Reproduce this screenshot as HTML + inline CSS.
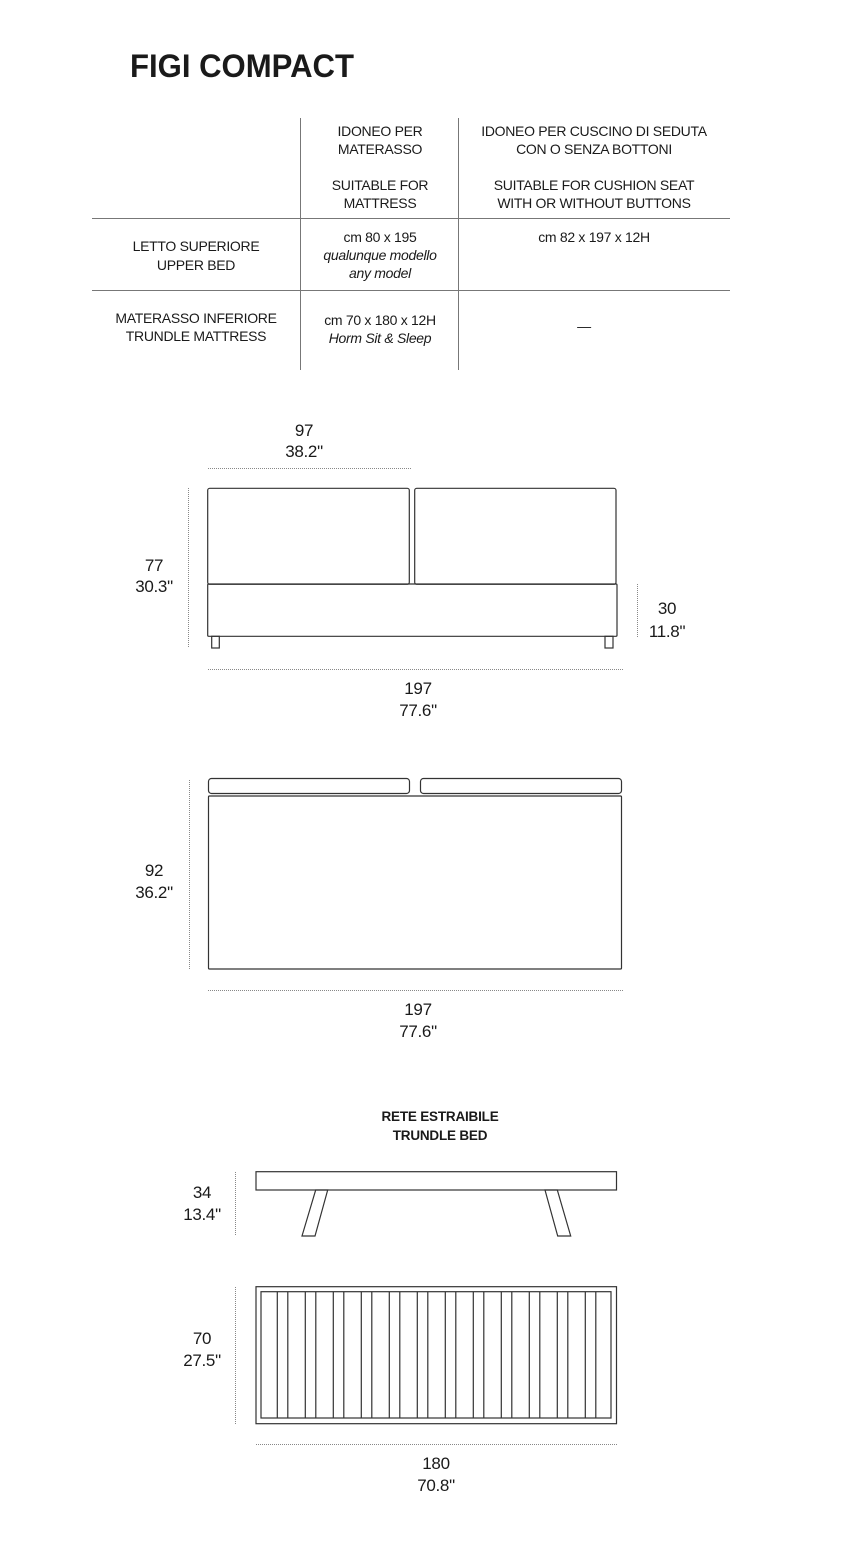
<!DOCTYPE html>
<html><head><meta charset="utf-8"><style>
html,body{margin:0;padding:0;background:#fff;}
svg{display:block;}
text{font-family:"Liberation Sans",sans-serif;fill:#1a1a1a;}
.t{font-size:14px;letter-spacing:-0.3px;}
.i{font-size:14px;font-style:italic;letter-spacing:-0.3px;}
.d{font-size:17px;letter-spacing:-0.3px;}
.b{font-size:13.5px;font-weight:bold;letter-spacing:-0.2px;}
.ln{stroke:#333;stroke-width:1.2;fill:none;}
.dim{stroke:#888;stroke-width:1;stroke-dasharray:1 1;fill:none;}
.tab{stroke:#777;stroke-width:1;}
</style></head><body>
<svg width="842" height="1543" viewBox="0 0 842 1543" xmlns="http://www.w3.org/2000/svg">
<text x="130" y="77" font-size="32" font-weight="bold" textLength="224" lengthAdjust="spacingAndGlyphs" style="letter-spacing:0">FIGI COMPACT</text>

<line class="tab" x1="300.5" y1="118" x2="300.5" y2="370"/>
<line class="tab" x1="458.5" y1="118" x2="458.5" y2="370"/>
<line class="tab" x1="92" y1="218.5" x2="730" y2="218.5"/>
<line class="tab" x1="92" y1="290.5" x2="730" y2="290.5"/>
<g text-anchor="middle">
<text class="t" x="380" y="136">IDONEO PER</text>
<text class="t" x="380" y="154">MATERASSO</text>
<text class="t" x="380" y="190">SUITABLE FOR</text>
<text class="t" x="380" y="208">MATTRESS</text>
<text class="t" x="594" y="136">IDONEO PER CUSCINO DI SEDUTA</text>
<text class="t" x="594" y="154">CON O SENZA BOTTONI</text>
<text class="t" x="594" y="190">SUITABLE FOR CUSHION SEAT</text>
<text class="t" x="594" y="208">WITH OR WITHOUT BUTTONS</text>
<text class="t" x="196" y="251">LETTO SUPERIORE</text>
<text class="t" x="196" y="270">UPPER BED</text>
<text class="t" x="380" y="242">cm 80 x 195</text>
<text class="i" x="380" y="260">qualunque modello</text>
<text class="i" x="380" y="278">any model</text>
<text class="t" x="594" y="242">cm 82 x 197 x 12H</text>
<text class="t" x="196" y="323">MATERASSO INFERIORE</text>
<text class="t" x="196" y="341">TRUNDLE MATTRESS</text>
<text class="t" x="380" y="325">cm 70 x 180 x 12H</text>
<text class="i" x="380" y="343">Horm Sit &amp; Sleep</text>
<text class="t" x="584" y="331">—</text>
</g>

<g text-anchor="middle">
<text class="d" x="304" y="436">97</text>
<text class="d" x="304" y="457">38.2"</text>
<text class="d" x="154" y="571">77</text>
<text class="d" x="154" y="592">30.3"</text>
<text class="d" x="667" y="614">30</text>
<text class="d" x="667" y="637">11.8"</text>
<text class="d" x="418" y="694">197</text>
<text class="d" x="418" y="716">77.6"</text>
</g>
<line class="dim" x1="208" y1="468.5" x2="412" y2="468.5"/>
<line class="dim" x1="188.5" y1="488" x2="188.5" y2="648"/>
<line class="dim" x1="637.5" y1="584" x2="637.5" y2="637"/>
<line class="dim" x1="208" y1="669.5" x2="623" y2="669.5"/>
<rect class="ln" x="207.7" y="488.3" width="201.6" height="96" rx="2"/>
<rect class="ln" x="414.7" y="488.3" width="201.3" height="96" rx="2"/>
<rect class="ln" x="207.7" y="584" width="409.3" height="52.3" rx="1"/>
<rect class="ln" x="211.7" y="636.3" width="7.6" height="11.7"/>
<rect class="ln" x="605" y="636.3" width="8" height="11.7"/>

<g text-anchor="middle">
<text class="d" x="154" y="876">92</text>
<text class="d" x="154" y="898">36.2"</text>
<text class="d" x="418" y="1015">197</text>
<text class="d" x="418" y="1037">77.6"</text>
</g>
<line class="dim" x1="189.5" y1="780" x2="189.5" y2="970"/>
<line class="dim" x1="208" y1="990.5" x2="623" y2="990.5"/>
<rect class="ln" x="208.5" y="778.5" width="201" height="15" rx="3"/>
<rect class="ln" x="420.5" y="778.5" width="201" height="15" rx="3"/>
<rect class="ln" x="208.5" y="796" width="413" height="173" rx="1"/>

<g text-anchor="middle">
<text class="b" x="440" y="1121">RETE ESTRAIBILE</text>
<text class="b" x="440" y="1140">TRUNDLE BED</text>
<text class="d" x="202" y="1198">34</text>
<text class="d" x="202" y="1220">13.4"</text>
<text class="d" x="202" y="1344">70</text>
<text class="d" x="202" y="1366">27.5"</text>
<text class="d" x="436" y="1469">180</text>
<text class="d" x="436" y="1491">70.8"</text>
</g>
<line class="dim" x1="235.5" y1="1172" x2="235.5" y2="1236"/>
<line class="dim" x1="235.5" y1="1287" x2="235.5" y2="1424"/>
<line class="dim" x1="256" y1="1444.5" x2="617" y2="1444.5"/>
<rect class="ln" x="256" y="1171.7" width="360.5" height="18.3"/>
<polygon class="ln" points="315.7,1190 327.7,1190 315,1236 302,1236"/>
<polygon class="ln" points="545,1190 557.3,1190 570.7,1236 557.7,1236"/>
<rect class="ln" x="256" y="1286.7" width="360.5" height="137"/>
<rect class="ln" x="261" y="1291.7" width="350" height="126.3"/>
<g class="ln">
<path d="M277.3 1292V1418M287.8 1292V1418M305.3 1292V1418M315.8 1292V1418M333.3 1292V1418M343.8 1292V1418M361.3 1292V1418M371.8 1292V1418M389.3 1292V1418M399.8 1292V1418M417.3 1292V1418M427.8 1292V1418M445.3 1292V1418M455.8 1292V1418M473.3 1292V1418M483.8 1292V1418M501.3 1292V1418M511.8 1292V1418M529.3 1292V1418M539.8 1292V1418M557.3 1292V1418M567.8 1292V1418M585.3 1292V1418M595.8 1292V1418"/>
</g>
</svg>
</body></html>
